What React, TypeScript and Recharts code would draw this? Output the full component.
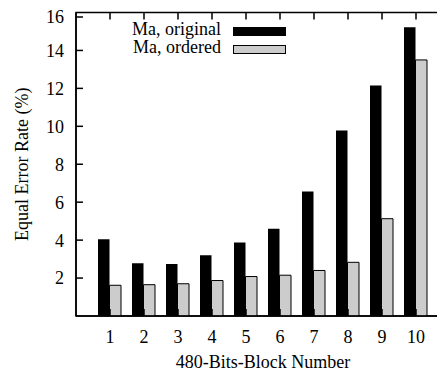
import React from 'react';
import { BarChart, Bar, XAxis, YAxis, Label, ReferenceArea, ReferenceLine } from 'recharts';

const blocks = [1, 2, 3, 4, 5, 6, 7, 8, 9, 10];
const maOriginal = [4.05, 2.78, 2.74, 3.2, 3.88, 4.6, 6.56, 9.78, 12.15, 15.22];
const maOrdered = [1.62, 1.65, 1.7, 1.87, 2.08, 2.15, 2.4, 2.83, 5.13, 13.5];
const seriesNames = ['Ma, original', 'Ma, ordered'];
const seriesColors = ['#000000', '#cccccc'];
const yTicks = [2, 4, 6, 8, 10, 12, 14, 16];
const rightTicks = [2, 4, 6, 8, 10, 12, 14];

const data = blocks.map((b, i) => ({
  block: b,
  original: maOriginal[i],
  ordered: maOrdered[i]
}));

const X_MAX = 11;
const Y_MAX = 16;
// mirrored ticks on the top/right border, length in axis units (~7px)
const topTickLen = 0.37;
const rightTickLen = 0.2;

const FONT = '"Liberation Serif", "Times New Roman", serif';
const axisStroke = { stroke: '#000', strokeWidth: 1.5 };
const TICK_LEN = 7;
const X_MARGIN = 14;
const Y_MARGIN = 12;

// gnuplot style: tick marks point into the plot, labels outside
const BottomTick = (p: any) => (
  <g>
    <line x1={p.x} x2={p.x} y1={p.y - X_MARGIN} y2={p.y - X_MARGIN - TICK_LEN} stroke="#000" strokeWidth={1.5} />
    <text x={p.x} y={p.y} dy="0.71em" textAnchor="middle" fontSize={18} fontFamily={FONT} fill="#000">
      {p.payload.value}
    </text>
  </g>
);

const LeftTick = (p: any) => (
  <g>
    <line x1={p.x + Y_MARGIN} x2={p.x + Y_MARGIN + TICK_LEN} y1={p.y} y2={p.y} stroke="#000" strokeWidth={1.5} />
    <text x={p.x} y={p.y} dy="0.355em" textAnchor="end" fontSize={18} fontFamily={FONT} fill="#000">
      {p.payload.value}
    </text>
  </g>
);

const KeyBox = () => (
  <div
    style={{
      position: 'absolute',
      top: 13.3,
      left: 113,
      fontFamily: FONT,
      fontSize: 18,
      color: '#000'
    }}
  >
    {seriesNames.map((name, i) => (
      <div key={name} style={{ display: 'flex', alignItems: 'center', height: 17.7, lineHeight: '17.7px' }}>
        <span style={{ width: 100, textAlign: 'right', whiteSpace: 'nowrap' }}>{name}</span>
        <span
          style={{
            marginLeft: 12,
            width: 53,
            height: 9,
            boxSizing: 'border-box',
            border: '1px solid #000',
            background: seriesColors[i],
            position: 'relative',
            top: 1.5
          }}
        />
      </div>
    ))}
  </div>
);

export default function App() {
  return (
    <div style={{ width: 437, height: 360, overflow: 'hidden', position: 'relative' }}>
      <BarChart
        width={450}
        height={372}
        data={data}
        margin={{ top: 4.5, right: 8, left: 0, bottom: 0 }}
        barGap={0}
        barSize={11.5}
      >
        <XAxis
          dataKey="block"
          type="number"
          domain={[0, X_MAX]}
          ticks={blocks}
          allowDataOverflow
          height={64}
          axisLine={axisStroke}
          tickLine={false}
          tickSize={0}
          tickMargin={X_MARGIN}
          tick={BottomTick}
        >
          <Label
            value="480-Bits-Block Number"
            position="insideBottom"
            offset={12}
            style={{ fontSize: 18, fill: '#000', fontFamily: FONT }}
          />
        </XAxis>
        <YAxis
          type="number"
          domain={[0, Y_MAX]}
          ticks={yTicks}
          allowDataOverflow
          width={68}
          axisLine={axisStroke}
          tickLine={false}
          tickSize={0}
          tickMargin={Y_MARGIN}
          tick={LeftTick}
        >
          <Label
            value="Equal Error Rate (%)"
            position="insideLeft"
            angle={-90}
            offset={13.5}
            style={{ fontSize: 18, fill: '#000', fontFamily: FONT, textAnchor: 'middle' }}
          />
        </YAxis>
        <Bar dataKey="original" name={seriesNames[0]} fill={seriesColors[0]} isAnimationActive={false} />
        <Bar
          dataKey="ordered"
          name={seriesNames[1]}
          fill={seriesColors[1]}
          stroke="#000000"
          strokeWidth={1}
          isAnimationActive={false}
        />
        {/* plot frame with mirrored ticks on top and right */}
        <ReferenceArea
          x1={0}
          x2={X_MAX}
          y1={0}
          y2={Y_MAX}
          fill="none"
          fillOpacity={0}
          stroke="#000"
          strokeWidth={1.5}
          strokeOpacity={1}
        />
        {blocks.map((b) => (
          <ReferenceLine
            key={`tt${b}`}
            segment={[
              { x: b, y: Y_MAX },
              { x: b, y: Y_MAX - topTickLen }
            ]}
            stroke="#000"
            strokeWidth={1.5}
          />
        ))}
        {rightTicks.map((t) => (
          <ReferenceLine
            key={`rt${t}`}
            segment={[
              { x: X_MAX, y: t },
              { x: X_MAX - rightTickLen, y: t }
            ]}
            stroke="#000"
            strokeWidth={1.5}
          />
        ))}
      </BarChart>
      <KeyBox />
    </div>
  );
}
